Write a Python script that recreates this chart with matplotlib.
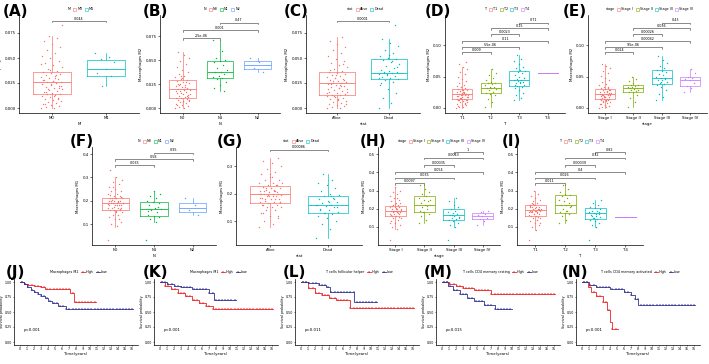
import numpy as np
import matplotlib
matplotlib.use('Agg')
import matplotlib.pyplot as plt
from matplotlib.patches import Patch
from matplotlib.lines import Line2D

# ---------------- data: Macrophages M2 (row 1) ----------------
A_groups = ['M0', 'M1']
A_M0 = [0.000, 0.000, 0.001, 0.002, 0.003, 0.004, 0.005, 0.006, 0.007, 0.008, 0.009, 0.010, 0.011, 0.012,
        0.013, 0.014, 0.014, 0.015, 0.016, 0.017, 0.018, 0.019, 0.020, 0.021, 0.022, 0.023, 0.024, 0.025,
        0.026, 0.026, 0.027, 0.028, 0.029, 0.030, 0.031, 0.032, 0.033, 0.034, 0.035, 0.036, 0.037, 0.039,
        0.041, 0.043, 0.045, 0.047, 0.050, 0.052, 0.055, 0.058, 0.061, 0.064, 0.067, 0.070, 0.072, 0.083,
        0.012, 0.016, 0.020, 0.024, 0.028, 0.033, 0.019, 0.022, 0.027, 0.004, 0.009, 0.038, 0.044, 0.030]
A_M1 = [0.055, 0.051, 0.049, 0.046, 0.039, 0.035, 0.032, 0.022]
A_box = [(0.014, 0.026, 0.036, 0.000, 0.072), (0.032, 0.039, 0.048, 0.022, 0.055)]
A_pvals = [(1, 2, 0.087, '0.044')]

B_groups = ['N0', 'N1', 'N2']
B_N0 = [0.000, 0.000, 0.001, 0.002, 0.003, 0.004, 0.005, 0.006, 0.007, 0.008, 0.009, 0.010, 0.011, 0.011,
        0.012, 0.013, 0.014, 0.015, 0.016, 0.017, 0.018, 0.019, 0.020, 0.020, 0.021, 0.022, 0.023, 0.024,
        0.025, 0.026, 0.027, 0.028, 0.029, 0.030, 0.032, 0.034, 0.036, 0.038, 0.040, 0.043, 0.046, 0.049,
        0.052, 0.055, 0.058, 0.013, 0.016, 0.018, 0.022, 0.024, 0.009, 0.006, 0.003, 0.027, 0.033, 0.015,
        0.019, 0.025, 0.012, 0.031]
B_N1 = [0.071, 0.060, 0.052, 0.050, 0.049, 0.048, 0.045, 0.042, 0.040, 0.038, 0.038, 0.036, 0.034, 0.032,
        0.031, 0.030, 0.027, 0.024, 0.021, 0.018]
B_N2 = [0.052, 0.048, 0.042, 0.038]
B_box = [(0.011, 0.020, 0.029, 0.000, 0.058), (0.031, 0.038, 0.049, 0.018, 0.071),
         (0.041, 0.045, 0.049, 0.038, 0.052)]
B_pvals = [(1, 2, 0.073, '2.5e-06'), (1, 3, 0.081, '0.001'), (2, 3, 0.089, '0.47')]

C_groups = ['Alive', 'Dead']
C_Alive = [0.000, 0.000, 0.001, 0.002, 0.003, 0.004, 0.005, 0.006, 0.007, 0.008, 0.009, 0.010, 0.011, 0.012,
           0.013, 0.013, 0.014, 0.015, 0.016, 0.017, 0.018, 0.019, 0.020, 0.021, 0.022, 0.023, 0.024, 0.025,
           0.025, 0.026, 0.027, 0.028, 0.029, 0.030, 0.031, 0.032, 0.033, 0.034, 0.035, 0.036, 0.037, 0.039,
           0.041, 0.043, 0.045, 0.047, 0.049, 0.052, 0.055, 0.058, 0.061, 0.064, 0.067, 0.071, 0.012, 0.016,
           0.020, 0.024, 0.028, 0.033, 0.019, 0.022, 0.027, 0.004, 0.009, 0.038, 0.044, 0.030, 0.015, 0.023]
C_Dead = [0.000, 0.005, 0.010, 0.015, 0.019, 0.023, 0.026, 0.028, 0.029, 0.030, 0.031, 0.032, 0.033, 0.034,
          0.035, 0.035, 0.036, 0.037, 0.038, 0.040, 0.042, 0.044, 0.046, 0.048, 0.049, 0.050, 0.052, 0.055,
          0.058, 0.062, 0.065, 0.069, 0.083, 0.034, 0.030, 0.047, 0.036, 0.041, 0.053, 0.025]
C_box = [(0.013, 0.025, 0.036, 0.000, 0.071), (0.029, 0.035, 0.049, 0.000, 0.069)]
C_pvals = [(1, 2, 0.087, '0.0001')]

D_groups = ['T1', 'T2', 'T3', 'T4']
D_T1 = [0.000, 0.001, 0.002, 0.004, 0.005, 0.007, 0.008, 0.009, 0.010, 0.011, 0.012, 0.013, 0.014, 0.014,
        0.015, 0.016, 0.017, 0.018, 0.019, 0.020, 0.021, 0.021, 0.022, 0.022, 0.023, 0.024, 0.025, 0.026,
        0.027, 0.028, 0.029, 0.030, 0.031, 0.033, 0.035, 0.037, 0.040, 0.043, 0.046, 0.050, 0.054, 0.058,
        0.062, 0.066, 0.070, 0.073, 0.016, 0.019, 0.024, 0.027, 0.012, 0.020, 0.003, 0.006, 0.034, 0.018,
        0.025, 0.013, 0.023, 0.029]
D_T2 = [0.002, 0.010, 0.015, 0.020, 0.023, 0.024, 0.026, 0.028, 0.030, 0.031, 0.032, 0.033, 0.034, 0.036,
        0.038, 0.039, 0.040, 0.042, 0.045, 0.048, 0.052, 0.056, 0.062]
D_T3 = [0.012, 0.016, 0.020, 0.024, 0.028, 0.032, 0.034, 0.035, 0.037, 0.039, 0.040, 0.042, 0.043, 0.044,
        0.044, 0.046, 0.048, 0.050, 0.052, 0.055, 0.057, 0.059, 0.060, 0.063, 0.066, 0.070, 0.074, 0.078,
        0.084, 0.047, 0.041, 0.036]
D_T4 = [0.055]
D_box = [(0.014, 0.022, 0.030, 0.000, 0.065), (0.024, 0.032, 0.040, 0.002, 0.062),
         (0.035, 0.044, 0.059, 0.012, 0.084), (0.055, 0.055, 0.055, 0.055, 0.055)]
D_pvals = [(1, 2, 0.089, '0.009'), (1, 3, 0.097, '5.5e-06'), (1, 4, 0.106, '0.11'),
           (2, 3, 0.117, '0.0023'), (2, 4, 0.127, '0.15'), (3, 4, 0.136, '0.71')]

E_groups = ['Stage I', 'Stage II', 'Stage III', 'Stage IV']
E_I = [0.000, 0.001, 0.002, 0.003, 0.005, 0.006, 0.008, 0.009, 0.010, 0.011, 0.012, 0.013, 0.014, 0.014,
       0.015, 0.016, 0.017, 0.018, 0.019, 0.020, 0.021, 0.022, 0.022, 0.023, 0.024, 0.025, 0.026, 0.027,
       0.028, 0.029, 0.030, 0.031, 0.032, 0.034, 0.036, 0.038, 0.041, 0.044, 0.047, 0.051, 0.055, 0.059,
       0.063, 0.067, 0.070, 0.015, 0.018, 0.023, 0.026, 0.011, 0.021, 0.004, 0.007, 0.033, 0.019, 0.024,
       0.012, 0.020, 0.028, 0.017]
E_II = [0.002, 0.010, 0.016, 0.021, 0.025, 0.026, 0.027, 0.028, 0.029, 0.030, 0.031, 0.032, 0.033, 0.034,
        0.035, 0.036, 0.037, 0.040, 0.043, 0.046, 0.050]
E_III = [0.012, 0.017, 0.022, 0.028, 0.033, 0.037, 0.038, 0.040, 0.042, 0.044, 0.045, 0.047, 0.048, 0.050,
         0.052, 0.054, 0.057, 0.059, 0.060, 0.063, 0.067, 0.072, 0.077, 0.083, 0.046, 0.041]
E_IV = [0.025, 0.031, 0.035, 0.040, 0.044, 0.046, 0.048, 0.050, 0.055, 0.062]
E_box = [(0.014, 0.022, 0.030, 0.000, 0.070), (0.026, 0.031, 0.037, 0.002, 0.050),
         (0.038, 0.047, 0.060, 0.012, 0.083), (0.035, 0.045, 0.050, 0.025, 0.062)]
E_pvals = [(1, 2, 0.089, '0.024'), (1, 3, 0.097, '9.5e-06'), (1, 4, 0.106, '0.00042'),
           (2, 3, 0.117, '0.00026'), (2, 4, 0.127, '0.036'), (3, 4, 0.136, '0.43')]

# ---------------- data: Macrophages M1 (row 2) ----------------
F_groups = ['N0', 'N1', 'N2']
F_N0 = [0.03, 0.09, 0.10, 0.11, 0.12, 0.13, 0.14, 0.14, 0.15, 0.15, 0.16, 0.16, 0.16, 0.17, 0.17, 0.17,
        0.18, 0.18, 0.18, 0.18, 0.19, 0.19, 0.19, 0.19, 0.20, 0.20, 0.20, 0.20, 0.21, 0.21, 0.21, 0.21,
        0.22, 0.22, 0.23, 0.23, 0.24, 0.24, 0.25, 0.26, 0.27, 0.28, 0.29, 0.30, 0.33, 0.165, 0.175, 0.185,
        0.195, 0.205, 0.215, 0.155, 0.225, 0.12, 0.26, 0.19, 0.18, 0.20, 0.17, 0.21]
F_N1 = [0.03, 0.11, 0.12, 0.13, 0.135, 0.14, 0.15, 0.16, 0.165, 0.17, 0.18, 0.19, 0.195, 0.20, 0.21, 0.22,
        0.23, 0.24, 0.155, 0.175]
F_N2 = [0.21, 0.18, 0.16, 0.14]
F_box = [(0.162, 0.190, 0.213, 0.087, 0.300), (0.135, 0.165, 0.195, 0.108, 0.243),
         (0.150, 0.170, 0.190, 0.140, 0.210)]
F_pvals = [(1, 2, 0.352, '0.035'), (1, 3, 0.378, '0.58'), (2, 3, 0.405, '0.95')]

G_groups = ['Alive', 'Dead']
G_Alive = [0.08, 0.09, 0.10, 0.11, 0.12, 0.13, 0.14, 0.14, 0.15, 0.15, 0.16, 0.16, 0.165, 0.17, 0.17,
           0.175, 0.18, 0.18, 0.185, 0.19, 0.19, 0.195, 0.20, 0.20, 0.20, 0.205, 0.21, 0.21, 0.215, 0.22,
           0.22, 0.225, 0.23, 0.23, 0.24, 0.24, 0.25, 0.25, 0.26, 0.27, 0.28, 0.29, 0.30, 0.31, 0.32, 0.33,
           0.19, 0.20, 0.21, 0.18, 0.17, 0.22, 0.16, 0.23, 0.15, 0.24, 0.19, 0.21, 0.12, 0.27, 0.20, 0.18,
           0.22, 0.17, 0.26, 0.13, 0.205, 0.195, 0.185, 0.215]
G_Dead = [0.04, 0.07, 0.09, 0.10, 0.11, 0.12, 0.125, 0.13, 0.135, 0.14, 0.145, 0.15, 0.155, 0.16, 0.16,
          0.165, 0.17, 0.175, 0.18, 0.185, 0.19, 0.195, 0.20, 0.21, 0.22, 0.23, 0.24, 0.25, 0.27, 0.15,
          0.17, 0.14, 0.18, 0.13, 0.16, 0.19]
G_box = [(0.165, 0.200, 0.227, 0.080, 0.330), (0.130, 0.160, 0.190, 0.040, 0.270)]
G_pvals = [(1, 2, 0.36, '0.00086')]

H_groups = ['Stage I', 'Stage II', 'Stage III', 'Stage IV']
H_I = [0.03, 0.09, 0.10, 0.11, 0.12, 0.13, 0.14, 0.15, 0.15, 0.16, 0.16, 0.17, 0.17, 0.17, 0.18, 0.18,
       0.18, 0.19, 0.19, 0.19, 0.19, 0.20, 0.20, 0.20, 0.21, 0.21, 0.21, 0.22, 0.22, 0.23, 0.23, 0.24,
       0.25, 0.26, 0.27, 0.28, 0.29, 0.30, 0.32, 0.165, 0.175, 0.185, 0.195, 0.205, 0.215, 0.155, 0.225,
       0.12, 0.26, 0.19, 0.18, 0.20]
H_II = [0.12, 0.14, 0.16, 0.17, 0.18, 0.19, 0.20, 0.21, 0.22, 0.22, 0.23, 0.24, 0.25, 0.26, 0.27, 0.28,
        0.29, 0.31, 0.33, 0.215, 0.18, 0.25]
H_III = [0.03, 0.10, 0.11, 0.12, 0.13, 0.14, 0.145, 0.15, 0.155, 0.16, 0.165, 0.17, 0.175, 0.18, 0.19,
         0.20, 0.21, 0.22, 0.24, 0.26, 0.165, 0.15]
H_IV = [0.11, 0.13, 0.145, 0.15, 0.16, 0.165, 0.17, 0.18, 0.19]
H_box = [(0.160, 0.190, 0.215, 0.090, 0.320), (0.180, 0.220, 0.270, 0.120, 0.330),
         (0.140, 0.165, 0.200, 0.100, 0.260), (0.145, 0.160, 0.175, 0.110, 0.190)]
H_pvals = [(1, 2, 0.34, '0.0097'), (1, 3, 0.37, '0.035'), (1, 4, 0.40, '0.054'),
           (2, 3, 0.44, '0.00035'), (2, 4, 0.48, '0.0043'), (3, 4, 0.51, '1')]

I_groups = ['T1', 'T2', 'T3', 'T4']
I_T1 = [0.03, 0.08, 0.10, 0.11, 0.12, 0.13, 0.14, 0.15, 0.15, 0.16, 0.16, 0.17, 0.17, 0.18, 0.18, 0.18,
        0.19, 0.19, 0.19, 0.20, 0.20, 0.20, 0.21, 0.21, 0.21, 0.22, 0.22, 0.23, 0.24, 0.25, 0.26, 0.27,
        0.28, 0.30, 0.165, 0.175, 0.185, 0.195, 0.205, 0.215, 0.155, 0.225, 0.12, 0.19, 0.18, 0.20, 0.17,
        0.21, 0.14, 0.23]
I_T2 = [0.12, 0.14, 0.16, 0.17, 0.175, 0.18, 0.19, 0.20, 0.21, 0.22, 0.22, 0.23, 0.24, 0.25, 0.26, 0.27,
        0.275, 0.28, 0.29, 0.31, 0.33, 0.215, 0.185]
I_T3 = [0.025, 0.10, 0.11, 0.12, 0.13, 0.14, 0.145, 0.15, 0.155, 0.16, 0.165, 0.17, 0.175, 0.18, 0.185,
        0.19, 0.20, 0.205, 0.21, 0.22, 0.23, 0.25, 0.17, 0.16, 0.18, 0.15]
I_T4 = [0.155]
I_box = [(0.160, 0.195, 0.220, 0.080, 0.300), (0.175, 0.220, 0.275, 0.120, 0.330),
         (0.145, 0.175, 0.205, 0.100, 0.250), (0.155, 0.155, 0.155, 0.155, 0.155)]
I_pvals = [(1, 2, 0.34, '0.011'), (1, 3, 0.37, '0.026'), (1, 4, 0.40, '0.4'),
           (2, 3, 0.44, '0.00039'), (2, 4, 0.48, '0.32'), (3, 4, 0.51, '0.82')]

# ---------------- data: Kaplan-Meier curves (row 3) ----------------
J_high_t = [0, 0.6, 1.2, 2.0, 3.0, 3.6, 7.1, 7.7, 10.8]
J_high_s = [1.0, 0.97, 0.95, 0.93, 0.91, 0.89, 0.81, 0.66, 0.66]
J_low_t = [0, 0.5, 1.0, 1.5, 2.0, 2.5, 3.0, 3.5, 4.0, 4.5, 5.5, 6.5, 16.2]
J_low_s = [1.0, 0.96, 0.91, 0.87, 0.83, 0.80, 0.77, 0.73, 0.69, 0.65, 0.60, 0.55, 0.55]

K_high_t = [0, 0.7, 1.5, 2.5, 3.5, 4.5, 5.5, 6.5, 7.5, 16.2]
K_high_s = [1.0, 0.94, 0.88, 0.82, 0.76, 0.70, 0.65, 0.60, 0.55, 0.55]
K_low_t = [0, 1.0, 2.0, 3.0, 4.5, 7.0, 7.7, 10.8]
K_low_s = [1.0, 0.97, 0.94, 0.91, 0.88, 0.82, 0.70, 0.70]

L_high_t = [0, 1.0, 2.0, 3.0, 4.0, 5.0, 7.0, 16.2]
L_high_s = [1.0, 0.90, 0.82, 0.78, 0.74, 0.70, 0.56, 0.56]
L_low_t = [0, 1.0, 2.5, 3.6, 4.2, 7.6, 10.8]
L_low_s = [1.0, 0.98, 0.95, 0.92, 0.84, 0.66, 0.66]

M_high_t = [0, 1.0, 2.0, 3.0, 4.5, 7.0, 16.2]
M_high_s = [1.0, 0.97, 0.93, 0.90, 0.86, 0.80, 0.80]
M_low_t = [0, 0.8, 1.5, 2.5, 3.5, 4.5, 6.0, 7.5, 10.0]
M_low_s = [1.0, 0.93, 0.86, 0.80, 0.74, 0.68, 0.62, 0.55, 0.55]

N_high_t = [0, 0.9, 1.3, 2.0, 3.0, 3.5, 4.0, 4.3, 5.2]
N_high_s = [1.0, 0.92, 0.83, 0.76, 0.67, 0.53, 0.33, 0.21, 0.21]
N_low_t = [0, 1.0, 2.0, 4.0, 6.0, 7.0, 7.5, 8.0, 16.2]
N_low_s = [1.0, 0.95, 0.91, 0.88, 0.83, 0.78, 0.72, 0.62, 0.62]

km_titles = ['Macrophages M2', 'Macrophages M1', 'T cells follicular helper',
             'T cells CD4 memory resting', 'T cells CD4 memory activated']
km_pvals = ['p<0.001', 'p<0.001', 'p=0.011', 'p=0.015', 'p<0.001']

# ---------------- drawing ----------------
W, H = 709, 364
fig = plt.figure(figsize=(W / 100, H / 100), dpi=100)
plt.rcParams['font.family'] = 'DejaVu Sans'

pal2 = ['#F8766D', '#00BFC4']
pal3 = ['#F8766D', '#00BA38', '#619CFF']
pal4 = ['#F8766D', '#7CAE00', '#00BFC4', '#C77CFF']
RED, BLUE = '#EE2024', '#2E3192'
FS = 2.8


def px_axes(x0, y0, x1, y1):
    return fig.add_axes([x0 / W, 1 - y1 / H, (x1 - x0) / W, (y1 - y0) / H])


def style(ax):
    for s in ['top', 'right']:
        ax.spines[s].set_visible(False)
    for s in ['left', 'bottom']:
        ax.spines[s].set_linewidth(0.5)
    ax.tick_params(labelsize=FS, width=0.4, length=1.5, pad=0.8)


def box_panel(rect, groups, values, boxes, colors, ylabel, xlabel, yticks, ylim, pvals, fmt):
    ax = px_axes(*rect)
    style(ax)
    for i, (v, b, c) in enumerate(zip(values, boxes, colors)):
        q1, med, q3, lo, hi = b
        ax.bxp([dict(med=med, q1=q1, q3=q3, whislo=lo, whishi=hi, fliers=[])], positions=[i + 1],
               widths=0.7, showfliers=False, showcaps=False,
               boxprops=dict(color=c, lw=0.5), whiskerprops=dict(color=c, lw=0.5),
               medianprops=dict(color=c, lw=0.6))
        n = len(v)
        jit = ((np.arange(n) * 0.618034) % 1 - 0.5) * 0.4 if n > 1 else np.zeros(1)
        ax.scatter(i + 1 + jit, v, s=1.0, color=c, linewidths=0, zorder=3)
    span = ylim[1] - ylim[0]
    for a, b, y, t in pvals:
        tip = span * 0.015
        ax.plot([a, a, b, b], [y - tip, y, y, y - tip], color='#333333', lw=0.4)
        ax.text((a + b) / 2, y + span * 0.005, t, ha='center', va='bottom', fontsize=2.4)
    ax.set_xlim(0.4, len(groups) + 0.6)
    ax.set_ylim(*ylim)
    ax.set_xticks(range(1, len(groups) + 1))
    ax.set_xticklabels(groups)
    ax.set_yticks(yticks)
    ax.set_yticklabels([fmt.format(t) for t in yticks])
    ax.set_ylabel(ylabel, fontsize=FS, labelpad=1.5)
    ax.set_xlabel(xlabel, fontsize=FS, labelpad=1.0)
    handles = [Line2D([], [], linestyle='none', label=xlabel)] + \
              [Patch(facecolor='white', edgecolor=c, lw=0.4, label=g) for g, c in zip(groups, colors)]
    ax.legend(handles=handles, ncol=len(handles), loc='lower center', bbox_to_anchor=(0.5, 1.02),
              fontsize=2.4, frameon=False, handlelength=0.9, handleheight=0.9, handletextpad=0.3,
              columnspacing=0.7, borderpad=0)
    return ax


def step_at(t, s, x):
    idx = np.searchsorted(t, x, side='right') - 1
    return np.asarray(s)[idx]


def km_panel(x_zero, curves, title, ptext):
    ppy = 7.0
    ax = px_axes(x_zero - 0.8 * ppy, 279, x_zero + 16.8 * ppy, 345)
    style(ax)
    ax.tick_params(labelsize=2.3, length=1.0, pad=0.5)
    for t, s, c in curves:
        ax.step(t, s, where='post', color=c, lw=0.6)
        cens = np.arange(0.3, t[-1], 0.45)
        ax.plot(cens, step_at(t, s, cens), '+', color=c, ms=1.4, mew=0.3)
    ax.set_xlim(-0.8, 16.8)
    ax.set_ylim(-0.05, 1.05)
    ax.set_xticks(range(0, 17))
    ax.set_yticks([0, 0.25, 0.5, 0.75, 1.0])
    ax.set_yticklabels(['0.00', '0.25', '0.50', '0.75', '1.00'])
    ax.set_xlabel('Time(years)', fontsize=FS, labelpad=1)
    ax.set_ylabel('Survival probability', fontsize=2.4, labelpad=0.6)
    ax.text(0.5, 0.18, ptext, fontsize=FS)
    handles = [Line2D([], [], linestyle='none', label=title),
               Line2D([], [], color=RED, lw=0.6, marker='+', ms=1.4, mew=0.3, label='High'),
               Line2D([], [], color=BLUE, lw=0.6, marker='+', ms=1.4, mew=0.3, label='Low')]
    ax.legend(handles=handles, ncol=3, loc='lower center', bbox_to_anchor=(0.5, 1.05), fontsize=2.4,
              frameon=False, handlelength=1.2, handletextpad=0.3, columnspacing=0.7, borderpad=0)
    return ax


m2 = 'Macrophages M2'
m1 = 'Macrophages M1'
box_panel((19, 15, 139, 113), A_groups, [A_M0, A_M1], A_box, pal2, m2, 'M',
          [0, 0.025, 0.05, 0.075], (-0.005, 0.093), A_pvals, '{:.3f}')
box_panel((160, 15, 280, 113), B_groups, [B_N0, B_N1, B_N2], B_box, pal3, m2, 'N',
          [0, 0.025, 0.05, 0.075], (-0.005, 0.097), B_pvals, '{:.3f}')
box_panel((306, 15, 420, 113), C_groups, [C_Alive, C_Dead], C_box, pal2, m2, 'stat',
          [0, 0.025, 0.05, 0.075], (-0.005, 0.093), C_pvals, '{:.3f}')
box_panel((445, 15, 565, 113), D_groups, [D_T1, D_T2, D_T3, D_T4], D_box, pal4, m2, 'T',
          [0, 0.05, 0.10], (-0.008, 0.148), D_pvals, '{:.2f}')
box_panel((588, 15, 707, 113), E_groups, [E_I, E_II, E_III, E_IV], E_box, pal4, m2, 'stage',
          [0, 0.05, 0.10], (-0.008, 0.148), E_pvals, '{:.2f}')

box_panel((92, 147, 216, 245), F_groups, [F_N0, F_N1, F_N2], F_box, pal3, m1, 'N',
          [0.1, 0.2, 0.3, 0.4], (0.01, 0.43), F_pvals, '{:.1f}')
box_panel((236, 147, 362, 245), G_groups, [G_Alive, G_Dead], G_box, pal2, m1, 'stat',
          [0.1, 0.2, 0.3], (0.013, 0.37), G_pvals, '{:.1f}')
box_panel((378, 147, 500, 245), H_groups, [H_I, H_II, H_III, H_IV], H_box, pal4, m1, 'stage',
          [0.1, 0.2, 0.3, 0.4, 0.5], (0.0, 0.54), H_pvals, '{:.1f}')
box_panel((517, 147, 643, 245), I_groups, [I_T1, I_T2, I_T3, I_T4], I_box, pal4, m1, 'T',
          [0.1, 0.2, 0.3, 0.4, 0.5], (0.0, 0.54), I_pvals, '{:.1f}')

km_data = [
    [(J_high_t, J_high_s, RED), (J_low_t, J_low_s, BLUE)],
    [(K_high_t, K_high_s, RED), (K_low_t, K_low_s, BLUE)],
    [(L_high_t, L_high_s, RED), (L_low_t, L_low_s, BLUE)],
    [(M_high_t, M_high_s, RED), (M_low_t, M_low_s, BLUE)],
    [(N_high_t, N_high_s, RED), (N_low_t, N_low_s, BLUE)],
]
for k, x0 in enumerate([20, 160, 301, 442, 582]):
    km_panel(x0, km_data[k], km_titles[k], km_pvals[k])

# panel letters
letters = [('(A)', 3, 4), ('(B)', 143, 4), ('(C)', 284, 4), ('(D)', 425, 4), ('(E)', 563, 4),
           ('(F)', 70, 134), ('(G)', 217, 134), ('(H)', 360, 134), ('(I)', 502, 134),
           ('(J)', 6, 265), ('(K)', 143, 265), ('(L)', 283, 265), ('(M)', 424, 265), ('(N)', 562, 265)]
for t, x, y in letters:
    fig.text(x / W, 1 - y / H, t, fontsize=11, fontweight='bold', va='top', ha='left')

fig.savefig('out.png', dpi=100)
